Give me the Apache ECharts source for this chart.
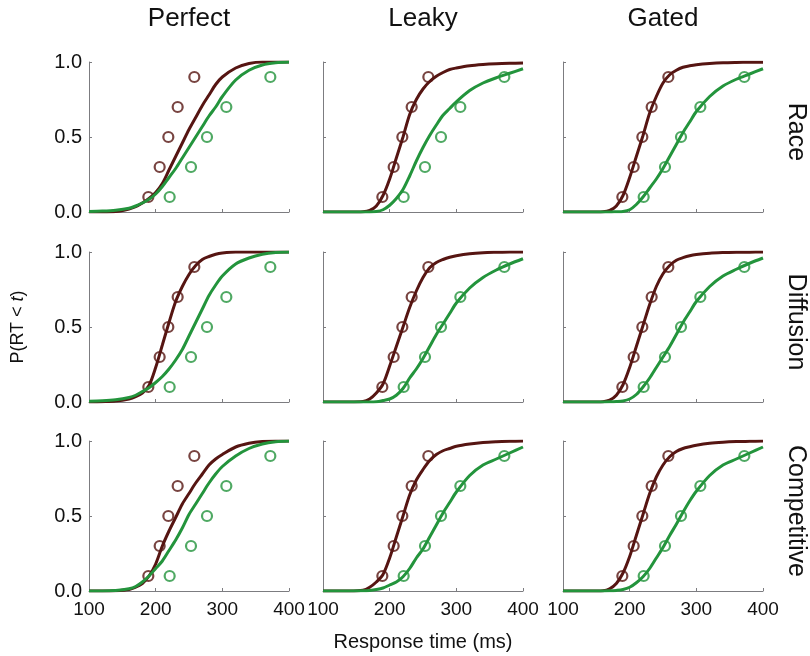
<!DOCTYPE html>
<html>
<head>
<meta charset="utf-8">
<script src="https://cdn.jsdelivr.net/npm/echarts@6/dist/echarts.min.js"></script>
<style>html,body{margin:0;padding:0;background:#fff;}#c{width:810px;height:656px;}</style>
</head>
<body>
<div id="c"></div>
<script>
// ---- data ----
const columns = ['Perfect', 'Leaky', 'Gated'];
const rows = ['Race', 'Diffusion', 'Competitive'];
const xTicks = [100, 200, 300, 400];
const yTicks = [0.0, 0.5, 1.0];
const quantiles = [0.1, 0.3, 0.5, 0.7, 0.9];
const obsBrown = [189, 206, 219, 233, 258];
const obsGreen = [221, 253, 277, 306, 372];
const curveX = [100,120,140,160,170,180,190,200,210,220,230,240,250,260,270,280,290,300,320,340,360,380,400];

// Perfect
const perfectRaceBrown = [0,0,0.003,0.02,0.035,0.06,0.09,0.13,0.19,0.28,0.37,0.46,0.55,0.63,0.71,0.78,0.85,0.90,0.96,0.99,1.0,1.0,1.0];
const perfectRaceGreen = [0.003,0.006,0.012,0.025,0.04,0.06,0.085,0.12,0.17,0.23,0.29,0.36,0.43,0.50,0.57,0.64,0.70,0.77,0.88,0.945,0.98,0.995,1.0];
const perfectDiffBrown = [0,0.002,0.006,0.02,0.035,0.06,0.11,0.23,0.38,0.53,0.67,0.77,0.85,0.91,0.95,0.97,0.985,0.993,1.0,1.0,1.0,1.0,1.0];
const perfectDiffGreen = [0.005,0.008,0.015,0.03,0.045,0.07,0.095,0.13,0.17,0.22,0.28,0.35,0.44,0.53,0.62,0.71,0.78,0.84,0.92,0.96,0.985,0.997,1.0];
const perfectCompBrown = [0,0,0.002,0.01,0.025,0.05,0.10,0.18,0.30,0.40,0.49,0.58,0.65,0.72,0.78,0.84,0.88,0.91,0.96,0.985,0.997,1.0,1.0];
const perfectCompGreen = [0,0,0.003,0.015,0.03,0.06,0.10,0.15,0.20,0.27,0.34,0.42,0.51,0.58,0.65,0.72,0.78,0.83,0.90,0.95,0.98,0.995,1.0];
// Leaky
const leakyRaceBrown = [0,0,0,0.002,0.01,0.04,0.11,0.22,0.36,0.50,0.65,0.75,0.82,0.87,0.905,0.93,0.95,0.96,0.975,0.983,0.988,0.991,0.993];
const leakyRaceGreen = [0,0,0,0,0,0.003,0.015,0.045,0.09,0.15,0.24,0.34,0.43,0.51,0.58,0.645,0.69,0.735,0.81,0.86,0.895,0.925,0.955];
const leakyDiffBrown = [0,0,0,0.003,0.02,0.06,0.12,0.24,0.37,0.50,0.63,0.74,0.83,0.895,0.93,0.95,0.965,0.975,0.988,0.995,0.998,1.0,1.0];
const leakyDiffGreen = [0,0,0,0,0,0.002,0.01,0.02,0.045,0.09,0.16,0.22,0.29,0.37,0.45,0.52,0.59,0.66,0.76,0.83,0.88,0.92,0.955];
const leakyCompBrown = [0,0,0,0.005,0.025,0.06,0.11,0.22,0.36,0.50,0.64,0.74,0.81,0.87,0.91,0.935,0.95,0.965,0.98,0.99,0.995,0.998,1.0];
const leakyCompGreen = [0,0,0,0.001,0.004,0.01,0.02,0.04,0.06,0.095,0.15,0.22,0.28,0.36,0.44,0.52,0.59,0.66,0.77,0.84,0.88,0.92,0.96];
// Gated
const gatedRaceBrown = [0,0,0,0.002,0.01,0.04,0.11,0.23,0.37,0.51,0.66,0.77,0.86,0.915,0.945,0.965,0.975,0.982,0.99,0.995,0.997,0.998,0.999];
const gatedRaceGreen = [0,0,0,0,0,0.002,0.004,0.015,0.05,0.10,0.16,0.22,0.29,0.37,0.45,0.53,0.60,0.67,0.77,0.84,0.885,0.92,0.955];
const gatedDiffBrown = [0,0,0,0.002,0.012,0.045,0.115,0.23,0.37,0.51,0.65,0.77,0.855,0.91,0.945,0.962,0.975,0.983,0.992,0.996,0.998,0.999,1.0];
const gatedDiffGreen = [0,0,0,0,0.001,0.003,0.007,0.02,0.05,0.10,0.16,0.23,0.30,0.37,0.45,0.53,0.60,0.67,0.77,0.84,0.885,0.925,0.96];
const gatedCompBrown = [0,0,0,0.002,0.015,0.05,0.12,0.23,0.37,0.51,0.65,0.76,0.84,0.895,0.93,0.95,0.962,0.972,0.985,0.992,0.996,0.998,1.0];
const gatedCompGreen = [0,0,0,0,0.001,0.004,0.01,0.025,0.055,0.095,0.15,0.22,0.29,0.37,0.445,0.525,0.60,0.665,0.77,0.84,0.88,0.92,0.96];

const panelCurves = [
  [[perfectRaceBrown, perfectRaceGreen], [leakyRaceBrown, leakyRaceGreen], [gatedRaceBrown, gatedRaceGreen]],
  [[perfectDiffBrown, perfectDiffGreen], [leakyDiffBrown, leakyDiffGreen], [gatedDiffBrown, gatedDiffGreen]],
  [[perfectCompBrown, perfectCompGreen], [leakyCompBrown, leakyCompGreen], [gatedCompBrown, gatedCompGreen]]
];

// ---- layout / style ----
const BROWN = '#561512';
const GREEN = '#23943c';
const AXIS = '#7c7c80';
const FONT = '"Liberation Sans", Arial, sans-serif';
const gridLeft = [89, 323, 563];
const gridTop = [62, 252, 441];
const GW = 200, GH = 150;

const grids = [], xAxes = [], yAxes = [], series = [];
let k = 0;
for (let r = 0; r < 3; r++) {
  for (let c = 0; c < 3; c++) {
    grids.push({ left: gridLeft[c], top: gridTop[r], width: GW, height: GH });
    const xa = {
      type: 'value', gridIndex: k, min: xTicks[0], max: xTicks[xTicks.length - 1], interval: 100,
      axisLine: { show: true, lineStyle: { color: AXIS, width: 1 } },
      axisTick: { show: true, inside: true, length: 3, lineStyle: { color: AXIS } },
      splitLine: { show: false },
      axisLabel: { show: r === 2, color: '#111', fontSize: 19, fontFamily: FONT, margin: 9 }
    };
    if (r === 2 && c === 1) {
      xa.name = 'Response time (ms)';
      xa.nameLocation = 'middle';
      xa.nameGap = 41;
      xa.nameTextStyle = { color: '#111', fontSize: 20, fontFamily: FONT };
    }
    xAxes.push(xa);
    const ya = {
      type: 'value', gridIndex: k, min: yTicks[0], max: yTicks[yTicks.length - 1], interval: 0.5,
      axisLine: { show: true, lineStyle: { color: AXIS, width: 1 } },
      axisTick: { show: true, inside: true, length: 3, lineStyle: { color: AXIS } },
      splitLine: { show: false },
      axisLabel: { show: c === 0, color: '#111', fontSize: 20, fontFamily: FONT, margin: 7,
        formatter: v => v.toFixed(1) }
    };
    if (r === 1 && c === 0) {
      ya.name = 'P(RT < {i|t})';
      ya.nameLocation = 'middle';
      ya.nameRotate = 90;
      ya.nameGap = 62;
      ya.nameTextStyle = { color: '#111', fontSize: 18, fontFamily: FONT,
        rich: { i: { fontStyle: 'italic', fontSize: 18, fontFamily: FONT, color: '#111' } } };
    }
    yAxes.push(ya);

    const [bc, gc] = panelCurves[r][c];
    series.push({
      type: 'scatter', xAxisIndex: k, yAxisIndex: k, symbol: 'circle', symbolSize: 10,
      itemStyle: { color: 'rgba(0,0,0,0)', borderColor: BROWN, borderWidth: 2.2 },
      data: obsBrown.map((x, i) => [x, quantiles[i]]), z: 2
    });
    series.push({
      type: 'scatter', xAxisIndex: k, yAxisIndex: k, symbol: 'circle', symbolSize: 10,
      itemStyle: { color: 'rgba(0,0,0,0)', borderColor: GREEN, borderWidth: 2.2 },
      data: obsGreen.map((x, i) => [x, quantiles[i]]), z: 2
    });
    series.push({
      type: 'line', xAxisIndex: k, yAxisIndex: k, showSymbol: false, smooth: 0.3,
      lineStyle: { color: BROWN, width: 3 }, data: curveX.map((x, i) => [x, bc[i]]), z: 3
    });
    series.push({
      type: 'line', xAxisIndex: k, yAxisIndex: k, showSymbol: false, smooth: 0.3,
      lineStyle: { color: GREEN, width: 3 }, data: curveX.map((x, i) => [x, gc[i]]), z: 4
    });
    k++;
  }
}

const graphics = [];
columns.forEach((t, c) => {
  graphics.push({ type: 'text', x: gridLeft[c] + GW / 2, y: 19,
    style: { text: t, fontSize: 26, fontFamily: FONT, fill: '#111', textAlign: 'center', textVerticalAlign: 'middle' } });
});
rows.forEach((t, r) => {
  graphics.push({ type: 'text', x: 796, y: gridTop[r] + GH / 2 - 5, rotation: -Math.PI / 2,
    style: { text: t, fontSize: 25, fontFamily: FONT, fill: '#111', textAlign: 'center', textVerticalAlign: 'middle' } });
});

const chart = echarts.init(document.getElementById('c'), null, { renderer: 'canvas' });
chart.setOption({
  animation: false,
  backgroundColor: '#fff',
  grid: grids, xAxis: xAxes, yAxis: yAxes, series: series,
  graphic: graphics
});
</script>
</body>
</html>
